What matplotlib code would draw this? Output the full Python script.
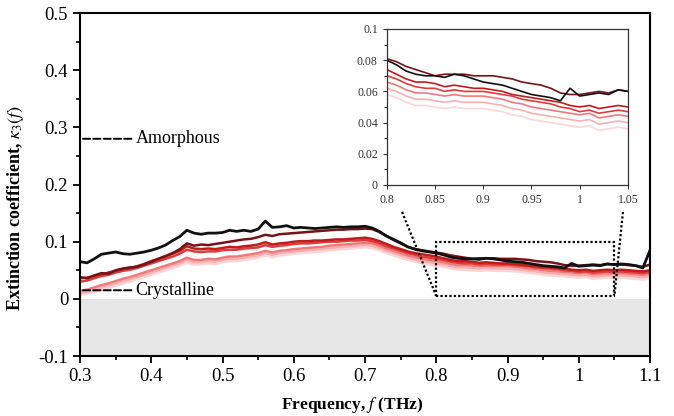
import matplotlib
matplotlib.use("Agg")
import matplotlib.pyplot as plt
from matplotlib.patches import Rectangle
from matplotlib.ticker import MultipleLocator

plt.rcParams['font.family'] = ['Liberation Serif', 'DejaVu Serif']
plt.rcParams['mathtext.fontset'] = 'stix'

# frequency grid (THz), 0.30 ... 1.10
freq = [round(0.30 + 0.01 * i, 2) for i in range(81)]

# extinction coefficient, from amorphous (black) to crystalline (pink)
k_black = [0.065, 0.063, 0.070, 0.078, 0.080, 0.082, 0.079, 0.078, 0.080, 0.082,
           0.085, 0.089, 0.094, 0.102, 0.109, 0.120, 0.115, 0.113, 0.115, 0.115,
           0.116, 0.120, 0.118, 0.120, 0.118, 0.122, 0.136, 0.125, 0.126, 0.128,
           0.124, 0.125, 0.124, 0.123, 0.124, 0.125, 0.126, 0.125, 0.126, 0.126,
           0.127, 0.124, 0.118, 0.110, 0.104, 0.098, 0.091, 0.087, 0.084, 0.082,
           0.080, 0.077, 0.073, 0.071, 0.070, 0.070, 0.069, 0.071, 0.070, 0.068,
           0.066, 0.065, 0.064, 0.062, 0.060, 0.058, 0.057, 0.056, 0.054, 0.062,
           0.057, 0.058, 0.059, 0.058, 0.061, 0.060, 0.061, 0.060, 0.058, 0.054,
           0.085]
k_dark = [0.038, 0.036, 0.041, 0.045, 0.044, 0.050, 0.053, 0.055, 0.056, 0.060,
          0.065, 0.070, 0.075, 0.080, 0.087, 0.097, 0.093, 0.095, 0.094, 0.096,
          0.098, 0.100, 0.102, 0.104, 0.105, 0.108, 0.112, 0.110, 0.113, 0.114,
          0.115, 0.116, 0.117, 0.118, 0.119, 0.120, 0.121, 0.121, 0.122, 0.122,
          0.123, 0.122, 0.117, 0.110, 0.103, 0.097, 0.091, 0.087, 0.085, 0.083,
          0.081, 0.079, 0.076, 0.074, 0.072, 0.070, 0.071, 0.071, 0.071, 0.070,
          0.070, 0.070, 0.069, 0.068, 0.066, 0.065, 0.064, 0.062, 0.059, 0.058,
          0.058, 0.059, 0.060, 0.059, 0.061, 0.060, 0.060, 0.059, 0.058, 0.056,
          0.060]
k_red1 = [0.036, 0.037, 0.040, 0.043, 0.046, 0.049, 0.052, 0.054, 0.057, 0.061,
          0.066, 0.070, 0.074, 0.079, 0.084, 0.092, 0.088, 0.087, 0.088, 0.087,
          0.089, 0.091, 0.090, 0.092, 0.093, 0.095, 0.099, 0.095, 0.097, 0.098,
          0.100, 0.101, 0.101, 0.102, 0.102, 0.103, 0.104, 0.104, 0.105, 0.106,
          0.107, 0.105, 0.101, 0.096, 0.091, 0.087, 0.083, 0.080, 0.078, 0.076,
          0.074, 0.071, 0.068, 0.066, 0.066, 0.065, 0.063, 0.064, 0.063, 0.062,
          0.062, 0.061, 0.060, 0.058, 0.057, 0.056, 0.055, 0.054, 0.053, 0.051,
          0.050, 0.051, 0.049, 0.050, 0.051, 0.050, 0.051, 0.050, 0.049, 0.048,
          0.050]
k_red2 = [0.030, 0.032, 0.036, 0.040, 0.042, 0.046, 0.049, 0.051, 0.054, 0.058,
          0.062, 0.066, 0.070, 0.074, 0.079, 0.086, 0.083, 0.082, 0.083, 0.083,
          0.085, 0.086, 0.086, 0.088, 0.089, 0.090, 0.094, 0.091, 0.093, 0.094,
          0.096, 0.097, 0.097, 0.098, 0.099, 0.100, 0.100, 0.101, 0.102, 0.102,
          0.103, 0.101, 0.097, 0.092, 0.088, 0.084, 0.080, 0.077, 0.074, 0.072,
          0.070, 0.068, 0.065, 0.063, 0.062, 0.062, 0.060, 0.061, 0.060, 0.060,
          0.060, 0.059, 0.058, 0.057, 0.055, 0.054, 0.053, 0.052, 0.050, 0.049,
          0.047, 0.048, 0.046, 0.047, 0.048, 0.047, 0.048, 0.047, 0.046, 0.045,
          0.047]
k_pink1 = [0.014, 0.016, 0.020, 0.024, 0.027, 0.031, 0.035, 0.038, 0.042, 0.046,
           0.050, 0.054, 0.058, 0.062, 0.066, 0.072, 0.068, 0.068, 0.070, 0.069,
           0.072, 0.074, 0.074, 0.076, 0.078, 0.080, 0.084, 0.081, 0.084, 0.085,
           0.087, 0.088, 0.089, 0.090, 0.091, 0.093, 0.094, 0.095, 0.096, 0.097,
           0.098, 0.097, 0.093, 0.088, 0.084, 0.080, 0.076, 0.073, 0.070, 0.068,
           0.066, 0.064, 0.061, 0.059, 0.059, 0.058, 0.057, 0.058, 0.057, 0.057,
           0.057, 0.056, 0.055, 0.053, 0.052, 0.050, 0.049, 0.048, 0.047, 0.046,
           0.045, 0.046, 0.043, 0.044, 0.045, 0.044, 0.045, 0.044, 0.043, 0.042,
           0.044]
k_pink2 = [0.010, 0.012, 0.016, 0.020, 0.023, 0.027, 0.031, 0.034, 0.038, 0.042,
           0.046, 0.050, 0.054, 0.058, 0.062, 0.068, 0.064, 0.064, 0.066, 0.065,
           0.068, 0.070, 0.070, 0.072, 0.074, 0.076, 0.080, 0.077, 0.080, 0.081,
           0.083, 0.084, 0.085, 0.086, 0.087, 0.089, 0.090, 0.091, 0.092, 0.093,
           0.094, 0.093, 0.089, 0.084, 0.080, 0.076, 0.072, 0.069, 0.066, 0.064,
           0.062, 0.060, 0.057, 0.055, 0.055, 0.054, 0.053, 0.054, 0.053, 0.053,
           0.053, 0.052, 0.051, 0.049, 0.048, 0.046, 0.045, 0.044, 0.043, 0.042,
           0.041, 0.042, 0.039, 0.040, 0.041, 0.040, 0.041, 0.040, 0.039, 0.038,
           0.040]
k_pink3 = [0.007, 0.009, 0.012, 0.016, 0.019, 0.023, 0.027, 0.030, 0.034, 0.038,
           0.042, 0.046, 0.050, 0.054, 0.058, 0.063, 0.060, 0.060, 0.062, 0.061,
           0.064, 0.066, 0.066, 0.068, 0.070, 0.072, 0.076, 0.073, 0.076, 0.077,
           0.079, 0.080, 0.081, 0.082, 0.083, 0.085, 0.086, 0.087, 0.088, 0.089,
           0.090, 0.089, 0.085, 0.080, 0.076, 0.072, 0.068, 0.065, 0.062, 0.060,
           0.058, 0.056, 0.053, 0.051, 0.051, 0.050, 0.049, 0.050, 0.049, 0.049,
           0.049, 0.048, 0.047, 0.045, 0.044, 0.042, 0.041, 0.040, 0.039, 0.038,
           0.037, 0.038, 0.035, 0.036, 0.037, 0.036, 0.037, 0.036, 0.035, 0.034,
           0.036]

series = [k_pink3, k_pink2, k_pink1, k_red2, k_red1, k_dark, k_black]
colors = ['#fbd6d6', '#f7b0b0', '#f07a7a', '#e03a3a', '#c01c1c', '#74141a', '#111111']

x_ticks = [0.3, 0.4, 0.5, 0.6, 0.7, 0.8, 0.9, 1.0, 1.1]
x_labels = ['0.3', '0.4', '0.5', '0.6', '0.7', '0.8', '0.9', '1', '1.1']
y_ticks = [-0.1, 0.0, 0.1, 0.2, 0.3, 0.4, 0.5]
y_labels = ['-0.1', '0', '0.1', '0.2', '0.3', '0.4', '0.5']
ix_ticks = [0.8, 0.85, 0.9, 0.95, 1.0, 1.05]
ix_labels = ['0.8', '0.85', '0.9', '0.95', '1', '1.05']
iy_ticks = [0, 0.02, 0.04, 0.06, 0.08, 0.1]
iy_labels = ['0', '0.02', '0.04', '0.06', '0.08', '0.1']

fig = plt.figure(figsize=(6.74, 4.16), dpi=100)
ax = fig.add_axes([0.1187, 0.1442, 0.8457, 0.8245])

ax.axhspan(-0.1, 0, color='#e6e6e6', zorder=0, lw=0)
for k, c in zip(series, colors):
    ax.plot(freq, k, color=c, lw=2.0 if c == '#111111' else 1.8, zorder=2)

ax.set_xlim(0.3, 1.1)
ax.set_ylim(-0.1, 0.5)
ax.set_xticks(x_ticks, x_labels)
ax.set_yticks(y_ticks, y_labels)
ax.xaxis.set_minor_locator(MultipleLocator(0.05))
ax.yaxis.set_minor_locator(MultipleLocator(0.05))
ax.tick_params(which='major', direction='out', length=5, width=1.3, labelsize=13.5)
ax.tick_params(which='minor', direction='out', length=3, width=1.2)
for s in ax.spines.values():
    s.set_linewidth(1.5)

ax.set_ylabel(r'Extinction coefficient, $\kappa_3(f)$', fontsize=13, fontweight='bold')
ax.yaxis.set_label_coords(-0.095, 0.43)
ax.set_xlabel(r'Frequency, $f$ (THz)', fontsize=12.5, fontweight='bold')
ax.xaxis.set_label_coords(0.477, -0.115)

# amorphous / crystalline markers
for label, yv in [('Amorphous', 0.28), ('Crystalline', 0.015)]:
    ax.annotate(label, xy=(0.3, yv), xytext=(0.378, yv), va='center', ha='left',
                fontsize=13,
                arrowprops=dict(arrowstyle='-', ls='--', lw=1.4, color='k',
                                shrinkA=1, shrinkB=0))

# zoom box and connectors
ax.add_patch(Rectangle((0.8, 0.005), 0.25, 0.095, fill=False, ls=(0, (1, 1)),
                       lw=1.6, ec='k', zorder=3))
ax.plot([0.752, 0.8], [0.152, 0.005], ls=(0, (1, 1)), lw=1.6, color='k', zorder=3)
ax.plot([1.062, 1.05], [0.152, 0.005], ls=(0, (1, 1)), lw=1.6, color='k', zorder=3)

# inset
ins = fig.add_axes([0.574, 0.5553, 0.3576, 0.375])
for k, c in zip(series, colors):
    ins.plot(freq, k, color=c, lw=1.2)
ins.set_xlim(0.8, 1.05)
ins.set_ylim(0, 0.1)
ins.set_xticks(ix_ticks, ix_labels)
ins.set_yticks(iy_ticks, iy_labels)
ins.yaxis.set_minor_locator(MultipleLocator(0.01))
ins.tick_params(which='major', direction='out', length=3, width=0.8, labelsize=8.5, colors='#333333')
ins.tick_params(which='minor', direction='out', length=2, width=0.8)
for s in ins.spines.values():
    s.set_linewidth(0.9)
    s.set_color('#333333')

fig.savefig('out.png', dpi=100)
